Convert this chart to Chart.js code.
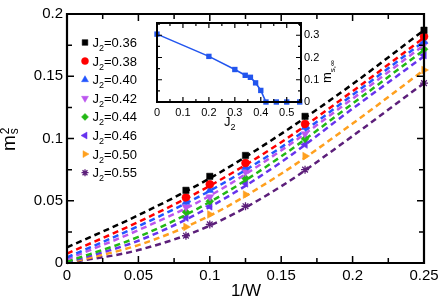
<!DOCTYPE html>
<html>
<head>
<meta charset="utf-8">
<script src="https://cdn.jsdelivr.net/npm/chart.js@4/dist/chart.umd.min.js"></script>
<style>
  html, body { margin: 0; padding: 0; background: #fff; }
  #wrap { position: relative; width: 444px; height: 302px; }
  #main { position: absolute; left: 0; top: 0; }
  #inset { position: absolute; left: 140px; top: 10px; }
</style>
</head>
<body>
<div id="wrap">
  <canvas id="main" width="444" height="302"></canvas>
  <canvas id="inset" width="220" height="125"></canvas>
</div>
<script>
// --- data ---
const invW = [0.0833, 0.1, 0.125, 0.1667, 0.25];
const j2Labels = ['0.36', '0.38', '0.40', '0.42', '0.44', '0.46', '0.50', '0.55'];

const m2_036 = [0.0584, 0.0696, 0.0864, 0.1178, 0.187];
const m2_038 = [0.0526, 0.0632, 0.0803, 0.1117, 0.182];
const m2_040 = [0.049, 0.0584, 0.077, 0.109, 0.178];
const m2_042 = [0.045, 0.053, 0.073, 0.1037, 0.1757];
const m2_044 = [0.041, 0.0496, 0.068, 0.0997, 0.1717];
const m2_046 = [0.0365, 0.0456, 0.064, 0.0952, 0.167];
const m2_050 = [0.029, 0.039, 0.055, 0.0859, 0.155];
const m2_055 = [0.0219, 0.031, 0.0456, 0.075, 0.1445];

// dashed fit curves, sampled at these 1/W values
const fitX = [0, 0.05, 0.1, 0.15, 0.2, 0.25];
const fit_036 = [0.0125, 0.0384, 0.068, 0.1037, 0.1437, 0.187];
const fit_038 = [0.0075, 0.033, 0.062, 0.097, 0.138, 0.181];
const fit_040 = [0.0045, 0.0296, 0.058, 0.093, 0.135, 0.178];
const fit_042 = [0.003, 0.0264, 0.054, 0.0904, 0.132, 0.175];
const fit_044 = [0.001, 0.021, 0.049, 0.0856, 0.128, 0.171];
const fit_046 = [0.0005, 0.0179, 0.045, 0.081, 0.124, 0.166];
const fit_050 = [0, 0.0144, 0.038, 0.0717, 0.112, 0.155];
const fit_055 = [0, 0.0104, 0.030, 0.0616, 0.102, 0.1445];

// inset: extrapolated order parameter vs J2
const j2Inset = [0, 0.2, 0.3, 0.34, 0.36, 0.38, 0.40, 0.42, 0.46, 0.50, 0.55];
const mInf = [0.305, 0.205, 0.146, 0.12, 0.111, 0.086, 0.052, 0, 0, 0, 0];

const xTicks = [0, 0.05, 0.1, 0.15, 0.2, 0.25];
const yTicks = [0, 0.05, 0.1, 0.15, 0.2];

// --- styles ---
const FONT = '"Liberation Sans", Arial, sans-serif';
const series = [
  { data: m2_036, fit: fit_036, color: '#000000', style: 'rect', r: 4.5, rot: 0 },
  { data: m2_038, fit: fit_038, color: '#ff0000', style: 'circle', r: 4, rot: 0 },
  { data: m2_040, fit: fit_040, color: '#2255ff', style: 'triangle', r: 4.5, rot: 0 },
  { data: m2_042, fit: fit_042, color: '#bb55ee', style: 'triangle', r: 4.5, rot: 180 },
  { data: m2_044, fit: fit_044, color: '#22b814', style: 'rectRot', r: 4, rot: 0 },
  { data: m2_046, fit: fit_046, color: '#6633ee', style: 'triangle', r: 4.5, rot: -90 },
  { data: m2_050, fit: fit_050, color: '#ffa01e', style: 'triangle', r: 4.5, rot: 90 },
  { data: m2_055, fit: fit_055, color: '#5c1f7a', style: 'star', r: 4, rot: 0 }
];

function zip(xs, ys) { return xs.map((x, i) => ({ x: x, y: ys[i] })); }
function fmt(v) { return String(+Number(v).toFixed(3)); }

// run of text pieces [text, size, dy]
function richText(ctx, parts, x, y) {
  let cx = x;
  parts.forEach(p => {
    ctx.font = p[1] + 'px ' + FONT;
    ctx.fillText(p[0], cx, y + (p[2] || 0));
    cx += ctx.measureText(p[0]).width;
  });
}

// frame + inward ticks on all four sides
function drawFrame(chart, o) {
  const ctx = chart.ctx, a = chart.chartArea;
  const x = chart.scales.x, y = chart.scales.y;
  ctx.save();
  ctx.setLineDash([]);
  ctx.strokeStyle = '#000000';
  ctx.lineWidth = o.tw;
  ctx.beginPath();
  for (let i = 0; i * o.xStep <= x.max + 1e-9; i++) {
    const px = x.getPixelForValue(i * o.xStep);
    const len = i % 2 === 0 ? o.major : o.minor;
    ctx.moveTo(px, a.bottom); ctx.lineTo(px, a.bottom - len);
    ctx.moveTo(px, a.top); ctx.lineTo(px, a.top + len);
  }
  for (let i = 0; i * o.yStep <= y.max + 1e-9; i++) {
    const py = y.getPixelForValue(i * o.yStep);
    const len = i % 2 === 0 ? o.major : o.minor;
    ctx.moveTo(a.left, py); ctx.lineTo(a.left + len, py);
    ctx.moveTo(a.right, py); ctx.lineTo(a.right - len, py);
  }
  ctx.stroke();
  ctx.lineWidth = o.fw;
  ctx.beginPath();
  ctx.rect(a.left, a.top, a.right - a.left, a.bottom - a.top);
  ctx.stroke();
  ctx.restore();
}

// --- main chart ---
const datasets = [];
series.forEach(s => {
  datasets.push({
    type: 'line', data: zip(fitX, s.fit), borderColor: s.color, borderWidth: 2.5,
    borderDash: [6, 4], pointRadius: 0, cubicInterpolationMode: 'monotone', clip: false
  });
});
series.forEach(s => {
  datasets.push({
    type: 'scatter', data: zip(invW, s.data), showLine: false,
    pointStyle: s.style, pointRadius: s.r, pointRotation: s.rot,
    backgroundColor: s.color, borderColor: s.color, borderWidth: s.style === 'star' ? 1.3 : 0.5,
    clip: false
  });
});

const mainLabels = {
  id: 'mainLabels',
  afterDraw(chart) {
    drawFrame(chart, { xStep: 0.025, yStep: 0.025, major: 7, minor: 5, tw: 1.5, fw: 2.2 });
    const ctx = chart.ctx;
    ctx.save();
    ctx.textBaseline = 'alphabetic';
    // legend
    series.forEach((s, i) => {
      const yy = 42.5 + i * 18.6;
      ctx.fillStyle = s.color; ctx.strokeStyle = s.color;
      ctx.lineWidth = s.style === 'star' ? 1.3 : 0.5;
      Chart.helpers.drawPoint(ctx, {
        pointStyle: s.style, radius: s.r - 0.5, rotation: s.rot, borderWidth: ctx.lineWidth
      }, 85, yy);
      ctx.fillStyle = '#000';
      richText(ctx, [['J', 13], ['2', 9, 4], ['=' + j2Labels[i], 13]], 92.5, yy + 4.5);
    });
    // axis titles
    ctx.font = '17px ' + FONT;
    ctx.textAlign = 'center';
    ctx.fillText('1/W', 246, 296);
    ctx.textAlign = 'left';
    ctx.translate(15, 151);
    ctx.rotate(-Math.PI / 2);
    ctx.font = '19px ' + FONT;
    ctx.fillText('m', 0, 0);
    const mw = ctx.measureText('m').width;
    ctx.font = '12px ' + FONT;
    ctx.fillText('2', mw + 1, -6);
    ctx.fillText('s', mw + 1, 3);
    ctx.restore();
  }
};

new Chart(document.getElementById('main'), {
  type: 'scatter',
  data: { datasets: datasets },
  options: {
    responsive: false,
    animation: false,
    layout: { padding: { top: 14, right: 20, left: 0, bottom: 0 } },
    plugins: { legend: { display: false }, tooltip: { enabled: false } },
    scales: {
      x: {
        type: 'linear', min: xTicks[0], max: xTicks[xTicks.length - 1],
        grid: { display: false, drawTicks: false }, border: { display: false },
        ticks: { stepSize: 0.05, color: '#000', font: { family: FONT, size: 15 }, padding: 4, maxRotation: 0, callback: fmt },
        afterFit(s) { s.height = 39; }
      },
      y: {
        type: 'linear', min: yTicks[0], max: yTicks[yTicks.length - 1],
        grid: { display: false, drawTicks: false }, border: { display: false },
        ticks: { stepSize: 0.05, color: '#000', font: { family: FONT, size: 15 }, padding: 4, callback: fmt },
        afterFit(s) { s.width = 67; }
      }
    }
  },
  plugins: [mainLabels]
});

// --- inset ---
const insetLabels = {
  id: 'insetLabels',
  beforeDraw(chart) {
    const a = chart.chartArea, ctx = chart.ctx;
    ctx.save();
    ctx.fillStyle = '#fff';
    ctx.fillRect(a.left, a.top, a.right - a.left, a.bottom - a.top);
    ctx.restore();
  },
  afterDraw(chart) {
    drawFrame(chart, { xStep: 0.05, yStep: 0.05, major: 5, minor: 3, tw: 1.2, fw: 2 });
    const ctx = chart.ctx;
    ctx.save();
    ctx.fillStyle = '#000';
    ctx.textAlign = 'left';
    richText(ctx, [['J', 13], ['2', 9, 4]], 84, 116);
    ctx.translate(191, 64);
    ctx.rotate(-Math.PI / 2);
    ctx.font = '13px ' + FONT;
    ctx.fillText('m', -9, 0);
    const mw = ctx.measureText('m').width;
    ctx.font = '8px ' + FONT;
    ctx.fillText('s,∞', -9 + mw, 4);
    ctx.restore();
  }
};

new Chart(document.getElementById('inset'), {
  type: 'scatter',
  data: {
    datasets: [{
      data: zip(j2Inset, mInf), showLine: true, borderColor: '#2255ee', borderWidth: 1.6,
      pointStyle: 'rect', pointRadius: 3.8, backgroundColor: '#2255ee', pointBorderWidth: 0, clip: false
    }]
  },
  options: {
    responsive: false,
    animation: false,
    layout: { padding: { top: 13, left: 17, right: 0, bottom: 0 } },
    plugins: { legend: { display: false }, tooltip: { enabled: false } },
    scales: {
      x: {
        type: 'linear', min: 0, max: 0.555,
        grid: { display: false, drawTicks: false }, border: { display: false },
        ticks: { stepSize: 0.1, includeBounds: false, color: '#000', font: { family: FONT, size: 11 }, padding: 4, maxRotation: 0, callback: fmt },
        afterFit(s) { s.height = 33; }
      },
      y: {
        type: 'linear', position: 'right', min: 0, max: 0.355,
        grid: { display: false, drawTicks: false }, border: { display: false },
        ticks: { stepSize: 0.1, includeBounds: false, color: '#000', font: { family: FONT, size: 11 }, padding: 3, callback: fmt },
        afterFit(s) { s.width = 59; }
      }
    }
  },
  plugins: [insetLabels]
});
</script>
</body>
</html>
